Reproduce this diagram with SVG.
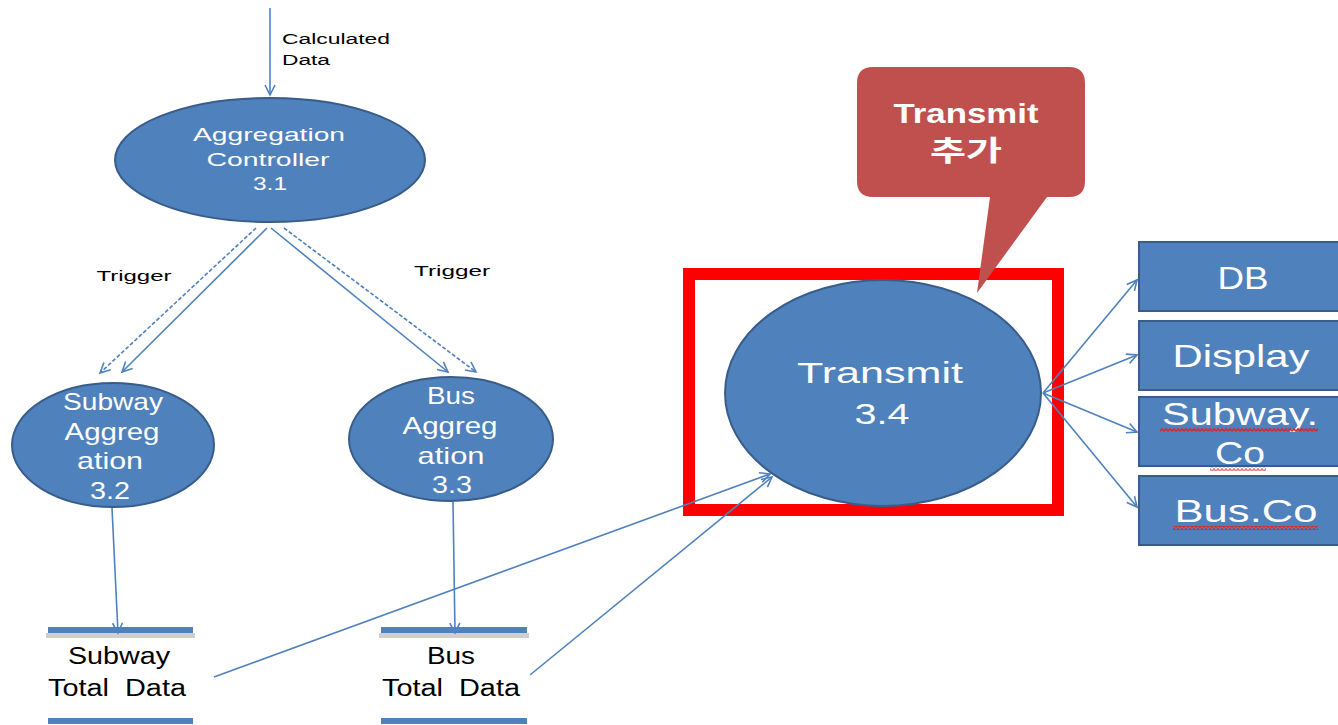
<svg xmlns="http://www.w3.org/2000/svg" width="1338" height="725" viewBox="0 0 1338 725">
<style>
text{font-family:"Liberation Sans","Noto Sans CJK KR",sans-serif;dominant-baseline:central;text-anchor:middle}
.w{fill:#ffffff}
.k{fill:#000000}
.node{fill:#4f81bd;stroke:#385d8a;stroke-width:2}
.c{stroke:#4f81bd;stroke-width:1.6;fill:none;marker-end:url(#ah)}
.d{stroke:#4f81bd;stroke-width:1.6;fill:none;stroke-dasharray:4 2;marker-end:url(#ah)}
.bar{fill:#4f81bd}
.sh{fill:#cfcfcf}
</style>
<defs>
<marker id="ah" markerWidth="14" markerHeight="14" refX="12" refY="7" orient="auto" markerUnits="userSpaceOnUse">
<path d="M2,2 L12,7 L2,12" fill="none" stroke="#4f81bd" stroke-width="1.6"/>
</marker>
<pattern id="wavy" width="4" height="4" patternUnits="userSpaceOnUse">
<path d="M0,3.2 L2,0.8 L4,3.2" fill="none" stroke="#d42a2a" stroke-width="1.6"/>
</pattern>
</defs>
<rect width="1338" height="725" fill="#ffffff"/>

<g id="label-calculated">
<text class="k" x="336" y="38.5" font-size="14" textLength="108" lengthAdjust="spacingAndGlyphs">Calculated</text>
<text class="k" x="306" y="60" font-size="14" textLength="48" lengthAdjust="spacingAndGlyphs">Data</text>
</g>

<g id="node-aggregation-controller">
<ellipse class="node" cx="270" cy="160" rx="155" ry="62"/>
<text class="w" x="269" y="134.5" font-size="19" textLength="152" lengthAdjust="spacingAndGlyphs">Aggregation</text>
<text class="w" x="268" y="159" font-size="19" textLength="123" lengthAdjust="spacingAndGlyphs">Controller</text>
<text class="w" x="270" y="183" font-size="19" textLength="34" lengthAdjust="spacingAndGlyphs">3.1</text>
</g>

<g id="labels-trigger">
<text class="k" x="134" y="276" font-size="14" textLength="75" lengthAdjust="spacingAndGlyphs">Trigger</text>
<text class="k" x="452" y="271" font-size="14" textLength="76" lengthAdjust="spacingAndGlyphs">Trigger</text>
</g>

<g id="node-subway-aggregation">
<ellipse class="node" cx="113" cy="445" rx="101" ry="62"/>
<text class="w" x="113" y="401" font-size="24" textLength="100" lengthAdjust="spacingAndGlyphs">Subway</text>
<text class="w" x="112" y="431" font-size="24" textLength="95" lengthAdjust="spacingAndGlyphs">Aggreg</text>
<text class="w" x="110" y="460" font-size="24" textLength="66" lengthAdjust="spacingAndGlyphs">ation</text>
<text class="w" x="110" y="490" font-size="24" textLength="40" lengthAdjust="spacingAndGlyphs">3.2</text>
</g>

<g id="node-bus-aggregation">
<ellipse class="node" cx="451" cy="439" rx="102" ry="62"/>
<text class="w" x="451" y="395" font-size="24" textLength="48" lengthAdjust="spacingAndGlyphs">Bus</text>
<text class="w" x="450" y="425" font-size="24" textLength="95" lengthAdjust="spacingAndGlyphs">Aggreg</text>
<text class="w" x="451" y="455" font-size="24" textLength="67" lengthAdjust="spacingAndGlyphs">ation</text>
<text class="w" x="452" y="484" font-size="24" textLength="40" lengthAdjust="spacingAndGlyphs">3.3</text>
</g>

<g id="store-subway-total">
<rect class="bar" x="48" y="627" width="145" height="6"/>
<rect class="sh" x="46" y="633" width="149" height="5"/>
<rect class="bar" x="48" y="718" width="145" height="6"/>
<text class="k" x="119" y="656" font-size="23" textLength="102" lengthAdjust="spacingAndGlyphs">Subway</text>
<text class="k" x="117" y="688" font-size="23" textLength="138" lengthAdjust="spacingAndGlyphs" xml:space="preserve">Total  Data</text>
</g>

<g id="store-bus-total">
<rect class="bar" x="381" y="627" width="146" height="6"/>
<rect class="sh" x="379" y="633" width="150" height="5"/>
<rect class="bar" x="381" y="718" width="146" height="6"/>
<text class="k" x="451" y="656" font-size="23" textLength="48" lengthAdjust="spacingAndGlyphs">Bus</text>
<text class="k" x="451" y="688" font-size="23" textLength="138" lengthAdjust="spacingAndGlyphs" xml:space="preserve">Total  Data</text>
</g>

<g id="highlight-box">
<rect x="689" y="274" width="369" height="236" fill="none" stroke="#ff0000" stroke-width="12"/>
</g>

<g id="node-transmit">
<ellipse class="node" cx="883" cy="393" rx="158" ry="113"/>
<text class="w" x="880" y="372" font-size="30" textLength="166" lengthAdjust="spacingAndGlyphs">Transmit</text>
<text class="w" x="882" y="413" font-size="30" textLength="55" lengthAdjust="spacingAndGlyphs">3.4</text>
</g>

<g id="callout">
<path d="M873,67 H1069 Q1085,67 1085,83 V181 Q1085,197 1069,197 H1047 L977,293 L990,197 H873 Q857,197 857,181 V83 Q857,67 873,67 Z" fill="#c0504d"/>
<text class="w" x="966" y="113" font-size="28" font-weight="bold" textLength="145" lengthAdjust="spacingAndGlyphs">Transmit</text>
<text class="w" x="966" y="151" font-size="28" font-weight="bold" textLength="72" lengthAdjust="spacingAndGlyphs">추가</text>
</g>

<g id="node-db">
<rect class="node" x="1139" y="242" width="205" height="69"/>
<text class="w" x="1243" y="278" font-size="32" textLength="51" lengthAdjust="spacingAndGlyphs">DB</text>
</g>
<g id="node-display">
<rect class="node" x="1139" y="321" width="205" height="69"/>
<text class="w" x="1241" y="356" font-size="32" textLength="137" lengthAdjust="spacingAndGlyphs">Display</text>
</g>
<g id="node-subway-co">
<rect class="node" x="1139" y="397" width="205" height="69"/>
<text class="w" x="1240" y="414" font-size="32" textLength="156" lengthAdjust="spacingAndGlyphs">Subway.</text>
<text class="w" x="1240" y="453" font-size="32" textLength="50" lengthAdjust="spacingAndGlyphs">Co</text>
<rect x="1160" y="428" width="158" height="4" fill="url(#wavy)"/>
<rect x="1210" y="467" width="56" height="4" fill="url(#wavy)" opacity="0.6"/>
</g>
<g id="node-bus-co">
<rect class="node" x="1139" y="476" width="205" height="69"/>
<text class="w" x="1246" y="511" font-size="32" textLength="143" lengthAdjust="spacingAndGlyphs">Bus.Co</text>
<rect x="1173" y="526" width="145" height="4" fill="url(#wavy)"/>
</g>

<g id="connectors">
<line class="c" x1="270" y1="8" x2="270" y2="95"/>
<line class="d" x1="256" y1="228" x2="100" y2="373"/>
<line class="c" x1="267" y1="228" x2="122" y2="372"/>
<line class="c" x1="271" y1="228" x2="448" y2="372"/>
<line class="d" x1="284" y1="228" x2="476" y2="372"/>
<line class="c" x1="112" y1="508" x2="118" y2="633"/>
<line class="c" x1="453" y1="502" x2="455" y2="633"/>
<line class="c" x1="214" y1="677" x2="770" y2="474"/>
<line class="c" x1="530" y1="675" x2="772" y2="477"/>
<line class="c" x1="1043" y1="393" x2="1137" y2="280"/>
<line class="c" x1="1043" y1="393" x2="1137" y2="355"/>
<line class="c" x1="1043" y1="393" x2="1137" y2="432"/>
<line class="c" x1="1043" y1="393" x2="1137" y2="507"/>
</g>
</svg>
